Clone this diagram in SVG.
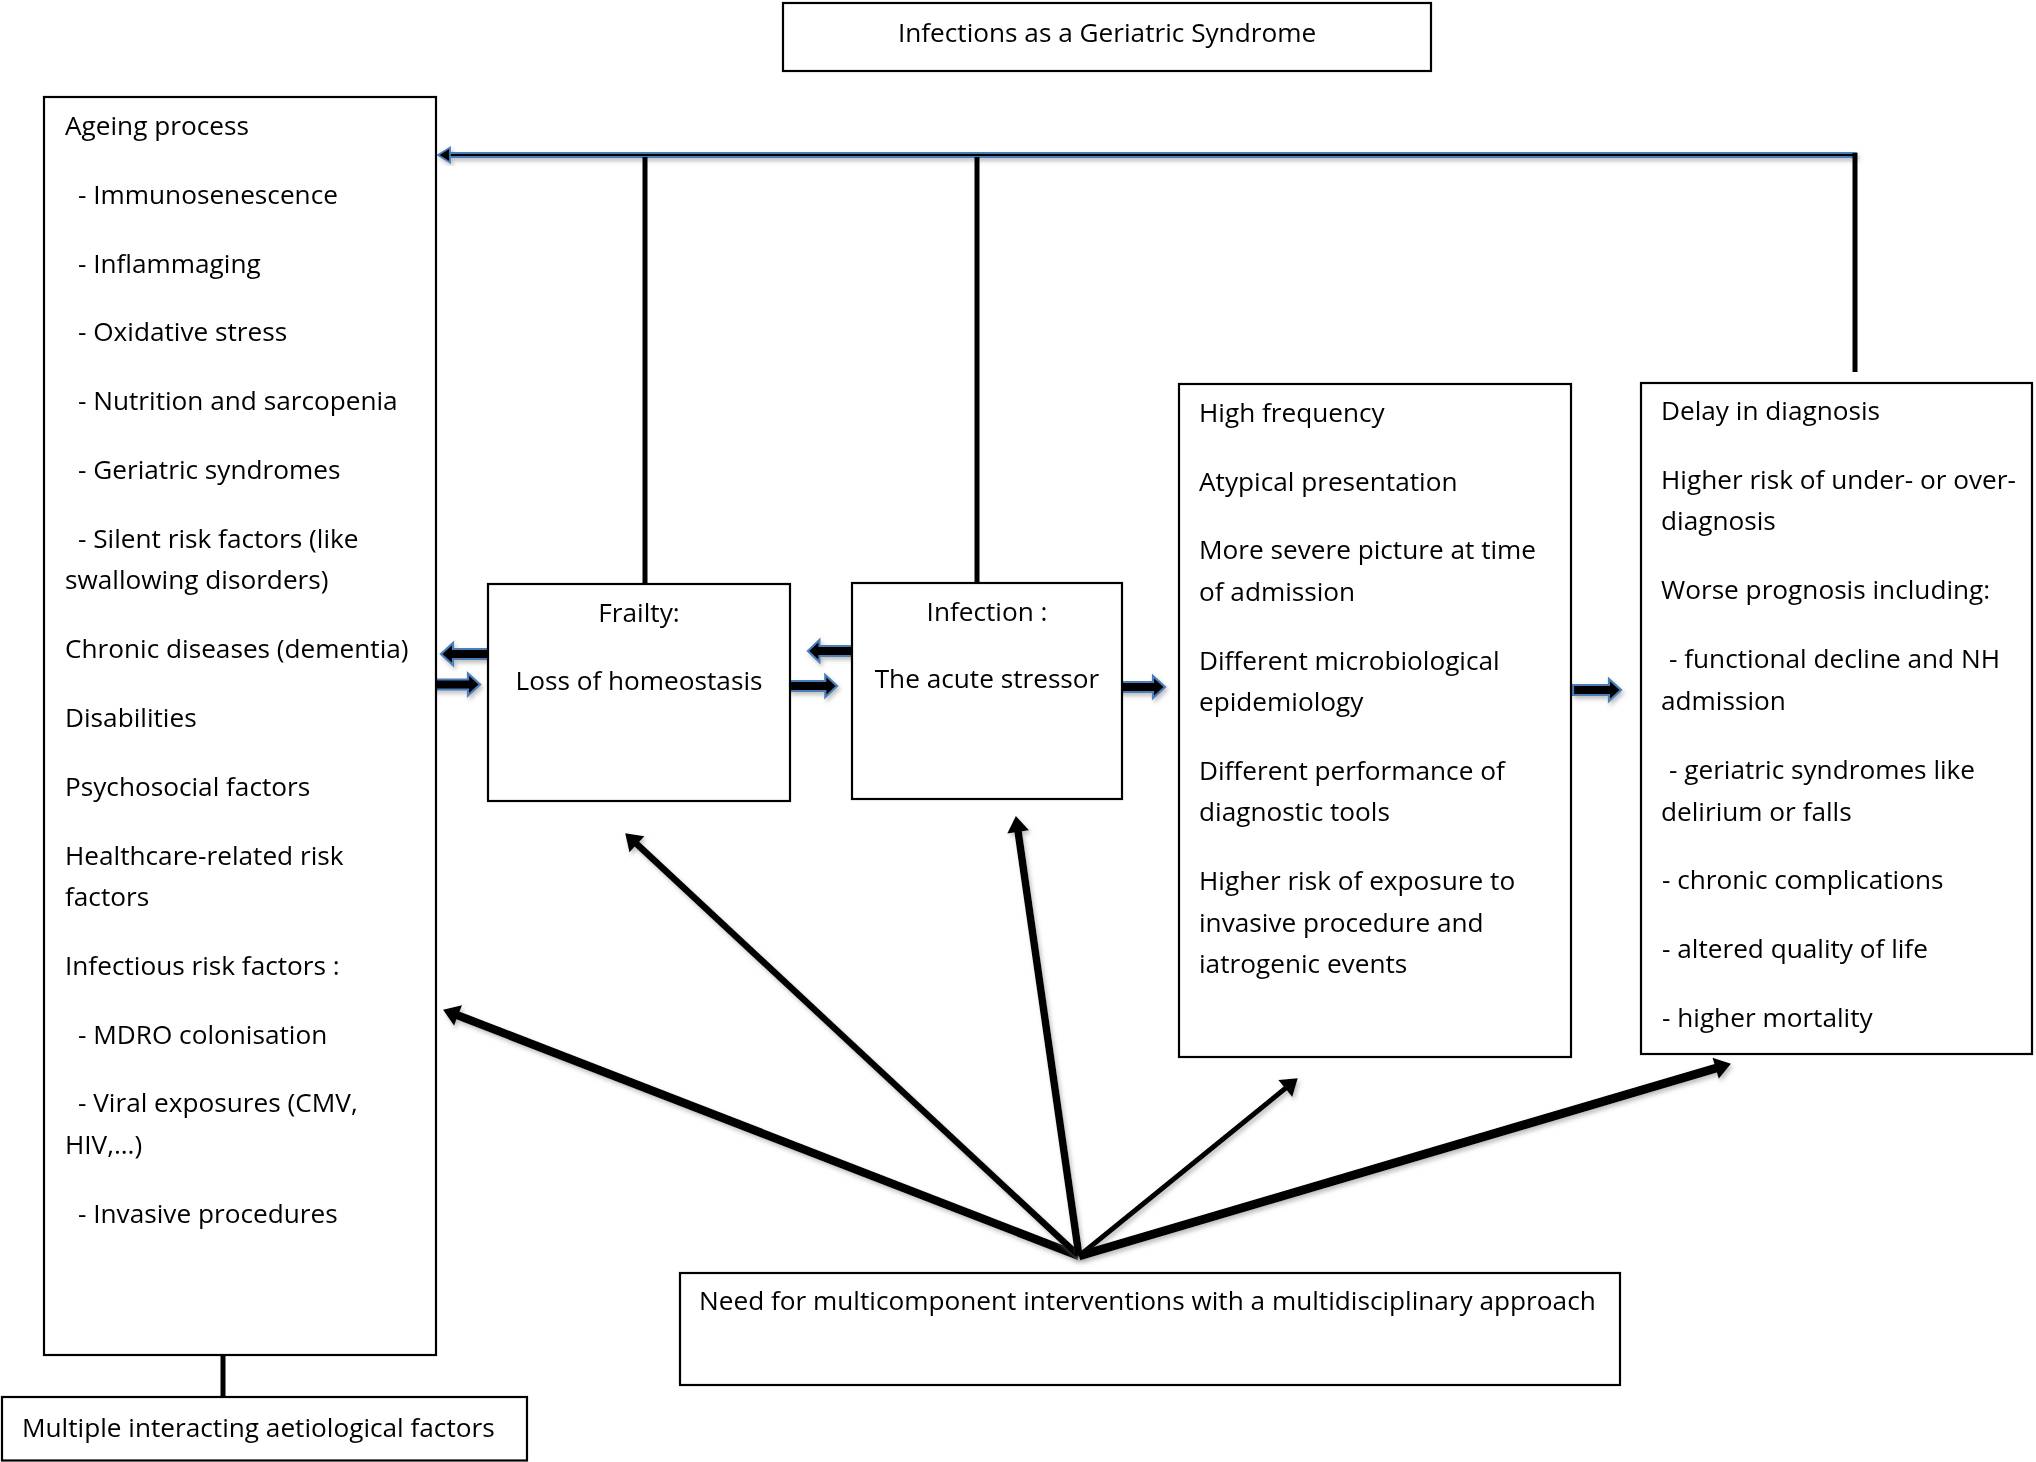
<svg xmlns="http://www.w3.org/2000/svg" width="2036" height="1462" viewBox="0 0 2036 1462">
<style>
  .box { fill: #ffffff; stroke: #000000; stroke-width: 2.2; }
  .t { font-family: "Open Sans", "Noto Sans", "Liberation Sans", sans-serif; font-size: 26.2px; fill: #000000; }
  .mid { text-anchor: middle; }
  .vline { stroke: #000000; stroke-width: 5; fill: none; }
  .fan { stroke: #000000; fill: none; marker-end: url(#head); filter: url(#shadow); }
  .blk { fill: #000000; stroke: #4A7EBB; stroke-width: 2.2; stroke-linejoin: miter; }
</style>
<defs>
  <filter id="shadow" x="-20%" y="-20%" width="140%" height="140%">
    <feDropShadow dx="2" dy="3" stdDeviation="2" flood-color="#808080" flood-opacity="0.5"/>
  </filter>
  <marker id="head" markerUnits="userSpaceOnUse" orient="auto" refX="0" refY="0" markerWidth="18" markerHeight="26" overflow="visible">
    <path d="M-1,-11 L15,0 L-1,11 Z" fill="#000000"/>
  </marker>
  <path id="rarrow" d="M0,-5 H36 V-11 L48,0 L36,11 V5 H0 Z"/>
</defs>

<rect width="2036" height="1462" fill="#ffffff"/>

<g id="connectors">
  <!-- top horizontal arrow -->
  <g filter="url(#shadow)">
    <line x1="442" y1="155" x2="1857" y2="155" stroke="#4A7EBB" stroke-width="6"/>
    <line x1="442" y1="155" x2="1857" y2="155" stroke="#000000" stroke-width="2"/>
    <polygon points="438,155 450,147.5 450,162.5" fill="#000000" stroke="#4A7EBB" stroke-width="1.8"/>
  </g>
  <line class="vline" x1="645" y1="157" x2="645" y2="584"/>
  <line class="vline" x1="977" y1="157" x2="977" y2="582"/>
  <line class="vline" x1="1855" y1="153" x2="1855" y2="372"/>
  <line class="vline" x1="223" y1="1355" x2="223" y2="1397"/>

  <!-- small block arrows -->
  <g filter="url(#shadow)">
    <use href="#rarrow" class="blk" transform="translate(489,654) scale(-1,1)"/>
    <use href="#rarrow" class="blk" transform="translate(432,684.5)"/>
    <use href="#rarrow" class="blk" transform="translate(854,651) scale(-0.96,1)"/>
    <use href="#rarrow" class="blk" transform="translate(790,686) scale(0.98,1)"/>
    <use href="#rarrow" class="blk" transform="translate(1117,687)"/>
    <use href="#rarrow" class="blk" transform="translate(1573,690)"/>
  </g>

  <!-- fan of arrows -->
  <line class="fan" x1="1079" y1="1256" x2="457.1" y2="1015.1" stroke-width="8.5"/>
  <line class="fan" x1="1079" y1="1256" x2="636.2" y2="843.5" stroke-width="6.5"/>
  <line class="fan" x1="1079" y1="1256" x2="1018" y2="830.9" stroke-width="7.5"/>
  <line class="fan" x1="1079" y1="1256" x2="1286.1" y2="1087.8" stroke-width="5"/>
  <line class="fan" x1="1079" y1="1256" x2="1716.6" y2="1068" stroke-width="9"/>
</g>

<g id="title">
  <rect class="box" x="783" y="3" width="648" height="68" stroke-width="2.6"/>
  <text class="t mid" x="1107" y="42">Infections as a Geriatric Syndrome</text>
</g>

<g id="ageing">
  <rect class="box" x="44" y="97" width="392" height="1258"/>
  <text class="t" x="65" y="135">Ageing process</text>
  <text class="t" x="78" y="204">- Immunosenescence</text>
  <text class="t" x="78" y="272.6">- Inflammaging</text>
  <text class="t" x="78" y="341.4">- Oxidative stress</text>
  <text class="t" x="78" y="410.2">- Nutrition and sarcopenia</text>
  <text class="t" x="78" y="479">- Geriatric syndromes</text>
  <text class="t" x="78" y="547.8">- Silent risk factors (like</text>
  <text class="t" x="65" y="589.3">swallowing disorders)</text>
  <text class="t" x="65" y="658.1">Chronic diseases (dementia)</text>
  <text class="t" x="65" y="726.9">Disabilities</text>
  <text class="t" x="65" y="795.7">Psychosocial factors</text>
  <text class="t" x="65" y="864.5">Healthcare-related risk</text>
  <text class="t" x="65" y="906">factors</text>
  <text class="t" x="65" y="974.8">Infectious risk factors :</text>
  <text class="t" x="78" y="1043.6">- MDRO colonisation</text>
  <text class="t" x="78" y="1112.4">- Viral exposures (CMV,</text>
  <text class="t" x="65" y="1153.9">HIV,…)</text>
  <text class="t" x="78" y="1222.7">- Invasive procedures</text>
</g>

<g id="frailty">
  <rect class="box" x="488" y="584" width="302" height="217"/>
  <text class="t mid" x="639" y="622">Frailty:</text>
  <text class="t mid" x="639" y="690">Loss of homeostasis</text>
</g>

<g id="infection">
  <rect class="box" x="852" y="583" width="270" height="216"/>
  <text class="t mid" x="987" y="621">Infection :</text>
  <text class="t mid" x="987" y="688">The acute stressor</text>
</g>

<g id="highfreq">
  <rect class="box" x="1179" y="384" width="392" height="673"/>
  <text class="t" x="1199" y="421.7">High frequency</text>
  <text class="t" x="1199" y="490.5">Atypical presentation</text>
  <text class="t" x="1199" y="559.3">More severe picture at time</text>
  <text class="t" x="1199" y="600.8">of admission</text>
  <text class="t" x="1199" y="669.6">Different microbiological</text>
  <text class="t" x="1199" y="711.1">epidemiology</text>
  <text class="t" x="1199" y="779.9">Different performance of</text>
  <text class="t" x="1199" y="821.4">diagnostic tools</text>
  <text class="t" x="1199" y="890.2">Higher risk of exposure to</text>
  <text class="t" x="1199" y="931.7">invasive procedure and</text>
  <text class="t" x="1199" y="973.2">iatrogenic events</text>
</g>

<g id="delay">
  <rect class="box" x="1641" y="383" width="391" height="671"/>
  <text class="t" x="1661" y="420">Delay in diagnosis</text>
  <text class="t" x="1661" y="489.3">Higher risk of under- or over-</text>
  <text class="t" x="1661" y="530">diagnosis</text>
  <text class="t" x="1661" y="599.3">Worse prognosis including:</text>
  <text class="t" x="1669" y="668.3">- functional decline and NH</text>
  <text class="t" x="1661" y="710">admission</text>
  <text class="t" x="1669" y="779">- geriatric syndromes like</text>
  <text class="t" x="1661" y="820.5">delirium or falls</text>
  <text class="t" x="1662" y="889.3">- chronic complications</text>
  <text class="t" x="1662" y="958">- altered quality of life</text>
  <text class="t" x="1662" y="1027">- higher mortality</text>
</g>

<g id="need">
  <rect class="box" x="680" y="1273" width="940" height="112"/>
  <text class="t" x="699" y="1310">Need for multicomponent interventions with a multidisciplinary approach</text>
</g>

<g id="multiple">
  <rect class="box" x="2" y="1397" width="525" height="63.5"/>
  <text class="t" x="22" y="1437">Multiple interacting aetiological factors</text>
</g>
</svg>
